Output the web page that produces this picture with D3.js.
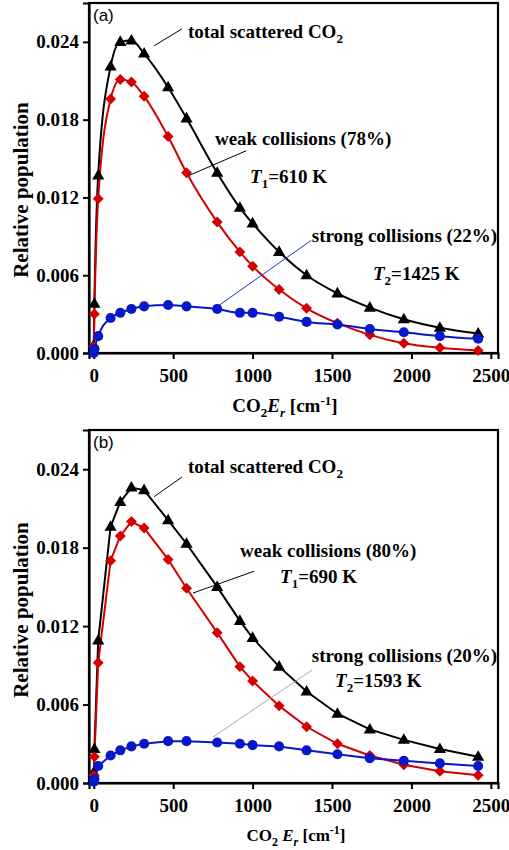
<!DOCTYPE html>
<html lang="en">
<head>
<meta charset="UTF-8">
<title>CO2 rotational populations</title>
<script src="https://d3js.org/d3.v7.min.js"></script>
<style>
    body { margin: 0; background: #fff; }
    svg text { font-family: "Liberation Serif", "Times New Roman", serif; font-weight: bold; }
</style>
</head>
<body>
<div id="chart"></div>
<script>
    // rotational energy of the scattered CO2 (cm-1), same grid for every series
    const energy = [0, 4, 28, 106, 167, 237, 317, 468, 584, 777, 920, 1000, 1167, 1340, 1534, 1738, 1952, 2179, 2420];

    // panel (a)
    const totalA  = [0.0006, 0.0038, 0.0137, 0.0221, 0.0240, 0.0241, 0.0231, 0.0205, 0.0181, 0.0139, 0.0112, 0.0100, 0.0078, 0.0060, 0.0046, 0.0035, 0.0026, 0.00195, 0.0015];
    const weakA   = [0.0005, 0.0030, 0.0119, 0.0196, 0.0211, 0.0209, 0.0198, 0.0167, 0.0139, 0.0101, 0.0078, 0.0067, 0.0049, 0.00345, 0.0023, 0.0014, 0.00075, 0.0004, 0.0002];
    const strongA = [0.0000, 0.0003, 0.0013, 0.0027, 0.0031, 0.0034, 0.0036, 0.0037, 0.0036, 0.0034, 0.0031, 0.0031, 0.0028, 0.0024, 0.0022, 0.00185, 0.0016, 0.0013, 0.0011];

    // panel (b)
    const totalB  = [0.0008, 0.0026, 0.0109, 0.0196, 0.0215, 0.0226, 0.0224, 0.0201, 0.0183, 0.0150, 0.0124, 0.0111, 0.0089, 0.0070, 0.0053, 0.0041, 0.0033, 0.0026, 0.0020];
    const weakB   = [0.0006, 0.0020, 0.0092, 0.0170, 0.0189, 0.0200, 0.0195, 0.0171, 0.0149, 0.0115, 0.0089, 0.0078, 0.0059, 0.0043, 0.0030, 0.0021, 0.0014, 0.0009, 0.0006];
    const strongB = [0.0001, 0.0003, 0.0013, 0.0021, 0.0025, 0.0028, 0.0030, 0.0032, 0.0032, 0.0031, 0.0030, 0.0029, 0.0028, 0.0025, 0.0022, 0.0019, 0.0017, 0.0015, 0.0013];

    const xTicks = [0, 500, 1000, 1500, 2000, 2500];
    const yTicks = [0, 0.006, 0.012, 0.018, 0.024];

    const width = 509, height = 850;
    const RED = "#d40000", BLUE = "#0618c8";

    const svg = d3.select("#chart").append("svg")
        .attr("width", width)
        .attr("height", height);

    const x = d3.scaleLinear().domain([-30, 2545]).range([89, 498]);

    function panel(cfg) {
        const y = d3.scaleLinear().domain([0, 0.027]).range([cfg.bottom, cfg.top]);
        const g = svg.append("g");

        // frame
        g.append("rect")
            .attr("x", x.range()[0]).attr("y", cfg.top)
            .attr("width", x.range()[1] - x.range()[0])
            .attr("height", cfg.bottom - cfg.top)
            .attr("fill", "none").attr("stroke", "#000").attr("stroke-width", 2.2);

        // axes
        const xAxis = g.append("g")
            .attr("transform", `translate(0,${cfg.bottom})`)
            .call(d3.axisBottom(x).tickValues(xTicks).tickSize(6).tickPadding(5).tickFormat(d3.format("d")));
        const yAxis = g.append("g")
            .attr("transform", `translate(${x.range()[0]},0)`)
            .call(d3.axisLeft(y).tickValues(yTicks).tickSize(6).tickPadding(4).tickFormat(d3.format(".3f")));
        [xAxis, yAxis].forEach(a => {
            a.select(".domain").attr("stroke-width", 2.2);
            a.selectAll(".tick line").attr("stroke-width", 2);
            a.selectAll(".tick text")
                .attr("font-size", 19)
                .attr("font-family", "Liberation Serif")
                .attr("font-weight", "bold")
                .attr("fill", "#000");
        });
        xAxis.selectAll(".tick text").attr("dy", "0.95em");

        // lines + markers
        const line = d3.line()
            .x((d, i) => x(energy[i]))
            .y(d => y(d))
            .curve(cfg.curve);

        const series = [
            {vals: cfg.total, color: "#000", shape: "tri"},
            {vals: cfg.weak, color: RED, shape: "dia"},
            {vals: cfg.strong, color: BLUE, shape: "circ"}
        ];

        series.forEach(s => {
            g.append("path")
                .datum(s.vals)
                .attr("d", line)
                .attr("fill", "none")
                .attr("stroke", s.color)
                .attr("stroke-width", 2);
        });

        series.forEach(s => {
            const m = g.append("g").selectAll("path")
                .data(s.vals)
                .join("path")
                .attr("fill", s.color);
            if (s.shape === "tri") {
                m.attr("d", d3.symbol(d3.symbolTriangle, 64))
                    .attr("transform", (d, i) => `translate(${x(energy[i])},${y(d) + 0.5})`);
            } else if (s.shape === "dia") {
                m.attr("d", d3.symbol(d3.symbolSquare, 60))
                    .attr("transform", (d, i) => `translate(${x(energy[i])},${y(d)}) rotate(45)`);
            } else {
                m.attr("d", d3.symbol(d3.symbolCircle, 80))
                    .attr("transform", (d, i) => `translate(${x(energy[i])},${y(d)})`);
            }
        });

        // leader lines for the labels
        cfg.leaders.forEach(l => {
            g.append("line")
                .attr("x1", x(l[0])).attr("y1", y(l[1]))
                .attr("x2", x(l[2])).attr("y2", y(l[3]))
                .attr("stroke", l[4]).attr("stroke-width", 1);
        });

        // panel letter
        g.append("text")
            .attr("x", x(-5)).attr("y", y(cfg.letterY))
            .style("font-family", "'Liberation Sans', Arial, sans-serif")
            .style("font-weight", "normal")
            .attr("font-size", 17)
            .text(cfg.letter);

        const t1 = g.append("text").attr("x", x(593)).attr("y", y(cfg.totalY)).attr("font-size", 19);
        t1.append("tspan").text("total scattered CO");
        t1.append("tspan").attr("font-size", 13).attr("dy", 5).text("2");

        g.append("text")
            .attr("x", x(cfg.weakX)).attr("y", y(cfg.weakY))
            .attr("font-size", 19)
            .text(cfg.weakText);

        const t2 = g.append("text").attr("x", x(cfg.t1X)).attr("y", y(cfg.t1Y)).attr("font-size", 19);
        t2.append("tspan").style("font-style", "italic").text("T");
        t2.append("tspan").attr("font-size", 13).attr("dy", 5).text("1");
        t2.append("tspan").attr("dy", -5).text(cfg.t1Text);

        g.append("text")
            .attr("x", x(2540)).attr("y", y(cfg.strongY))
            .attr("text-anchor", "end")
            .attr("font-size", 19)
            .text(cfg.strongText);

        const t3 = g.append("text").attr("x", x(cfg.t2X)).attr("y", y(cfg.t2Y)).attr("font-size", 19);
        t3.append("tspan").style("font-style", "italic").text("T");
        t3.append("tspan").attr("font-size", 13).attr("dy", 5).text("2");
        t3.append("tspan").attr("dy", -5).text(cfg.t2Text);

        // y label
        g.append("text")
            .attr("transform", `translate(28,${cfg.ylabelY}) rotate(-90)`)
            .attr("text-anchor", "middle")
            .attr("font-size", 21)
            .text("Relative population");

        // x label
        const xl = g.append("text")
            .attr("x", cfg.xlabelX).attr("y", cfg.xlabelBase)
            .attr("text-anchor", "middle")
            .attr("font-size", cfg.xlabelSize);
        const sub = Math.round(cfg.xlabelSize * 0.68);
        xl.append("tspan").text("CO");
        xl.append("tspan").attr("font-size", sub).attr("dy", 5).text("2");
        xl.append("tspan").attr("dy", -5).style("font-style", "italic").text(cfg.xlabelGap + "E");
        xl.append("tspan").attr("font-size", sub).attr("dy", 5).style("font-style", "italic").text("r");
        xl.append("tspan").attr("dy", -5).text(" [cm");
        xl.append("tspan").attr("font-size", sub).attr("dy", -7).text("-1");
        xl.append("tspan").attr("dy", 7).text("]");
    }

    panel({
        top: 3, bottom: 353,
        total: totalA, weak: weakA, strong: strongA,
        curve: d3.curveMonotoneX,
        letter: "(a)", letterY: 0.0256,
        totalY: 0.0243,
        weakX: 763, weakY: 0.01605, weakText: "weak collisions (78%)",
        t1X: 984, t1Y: 0.0131, t1Text: "=610 K",
        strongY: 0.00856, strongText: "strong collisions (22%)",
        t2X: 1758, t2Y: 0.00563, t2Text: "=1425 K",
        leaders: [
            [380, 0.0237, 555, 0.0250, "#000"],
            [600, 0.0137, 960, 0.0156, "#000"],
            [780, 0.0036, 1370, 0.0087, "#1a2fd8"]
        ],
        ylabelY: 190,
        xlabelX: 285, xlabelBase: 412, xlabelSize: 19, xlabelGap: ""
    });

    panel({
        top: 430, bottom: 783,
        total: totalB, weak: weakB, strong: strongB,
        curve: d3.curveLinear,
        letter: "(b)", letterY: 0.0256,
        totalY: 0.0237,
        weakX: 921, weakY: 0.0173, weakText: "weak collisions (80%)",
        t1X: 1173, t1Y: 0.0153, t1Text: "=690 K",
        strongY: 0.00926, strongText: "strong collisions (20%)",
        t2X: 1519, t2Y: 0.00734, t2Text: "=1593 K",
        leaders: [
            [380, 0.0219, 555, 0.0234, "#000"],
            [625, 0.01453, 1010, 0.0162, "#000"],
            [751, 0.00352, 1374, 0.00864, "#aaaaaa"]
        ],
        ylabelY: 610,
        xlabelX: 296, xlabelBase: 841, xlabelSize: 17, xlabelGap: " "
    });
</script>
</body>
</html>
